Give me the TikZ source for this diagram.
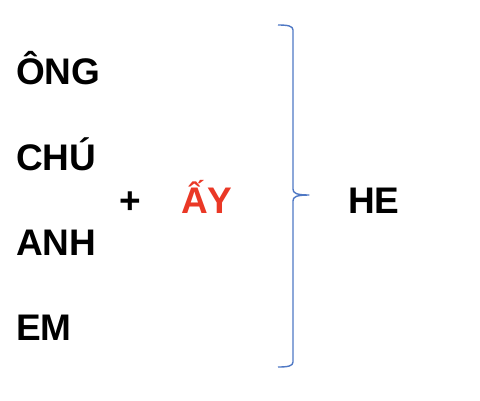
\documentclass[tikz,border=0pt]{standalone}
\usepackage{fontspec}
\setmainfont{Liberation Sans}
\definecolor{braceblue}{RGB}{79,120,196}
\definecolor{ayred}{RGB}{234,56,38}
\begin{document}
\begin{tikzpicture}[x=1pt,y=-1pt,
  word/.style={anchor=base west,inner sep=0pt,font=\fontsize{37}{44}\selectfont\bfseries},
  bracestyle/.style={draw=braceblue,line width=1.4pt,line join=round}]
\useasboundingbox (0,0) rectangle (480,400);
\node[word] (ong) at (16,84) {ÔNG};
\node[word] (chu) at (16,170) {CHÚ};
\node[word] (anh) at (16,255) {ANH};
\node[word] (em) at (16,340) {EM};
\node[word] (plus) at (119,213) {+};
\node[word,text=ayred] (ay) at (181,213) {ẤY};
\node[word] (he) at (348,213) {HE};
\coordinate (bt) at (278,25);
\coordinate (bb) at (278,367);
\coordinate (tip) at (309,195);
\draw[bracestyle] (bt) .. controls (288,25) and (293,26) .. (293,30)
  -- (293,189) .. controls (293,193) and (296,195) .. (tip)
  .. controls (296,195) and (293,197) .. (293,201)
  -- (293,362) .. controls (293,366) and (288,367) .. (bb);
\end{tikzpicture}
\end{document}
